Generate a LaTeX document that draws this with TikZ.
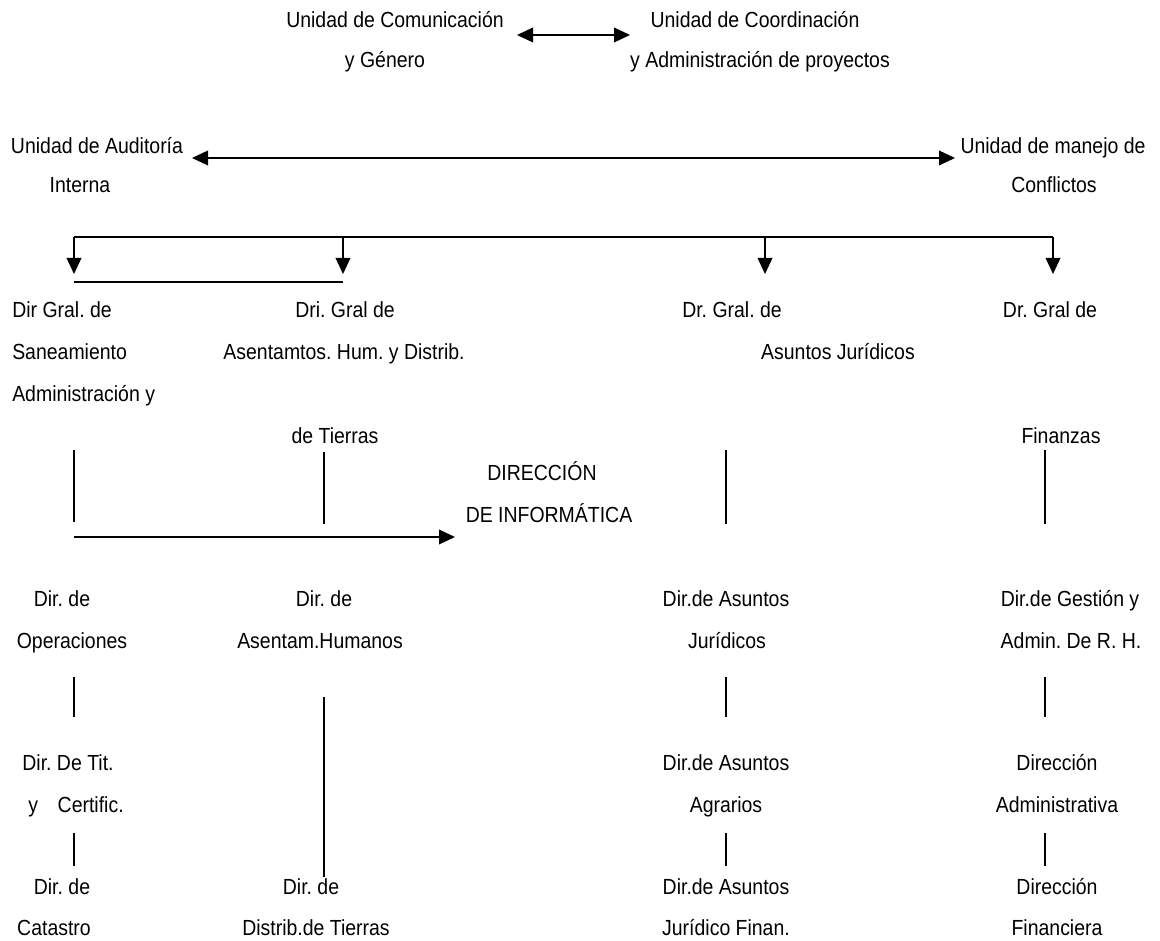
\documentclass[tikz,border=0pt]{standalone}
\usepackage{fontspec}
\setmainfont{Liberation Sans}[FakeStretch=0.89]
\usetikzlibrary{arrows.meta}
\begin{document}
\frenchspacing
\begin{tikzpicture}[x=0.75pt,y=-0.75pt,
  t/.style={font=\fontsize{16.4}{19}\selectfont, inner sep=0pt, anchor=base},
  tl/.style={t, anchor=base west},
  ln/.style={line width=1pt},
  ar/.style={line width=1pt,-{Triangle[length=12pt,width=11pt]}},
  dar/.style={line width=1pt,{Triangle[length=12pt,width=11pt]}-{Triangle[length=12pt,width=11pt]}}]
\useasboundingbox (0,0) rectangle (1160,941);
\fill[white] (0,0) rectangle (1160,941);
% top units
\node[t] (com1) at (395,28) {Unidad de Comunicación};
\node[t] (com2) at (385,68) {y Género};
\node[t] (coo1) at (755,28) {Unidad de Coordinación};
\node[t] (coo2) at (760,68) {y Administración de proyectos};
\node[t] (aud1) at (97,154) {Unidad de Auditoría};
\node[t] (aud2) at (80,193) {Interna};
\node[t] (con1) at (1053,154) {Unidad de manejo de};
\node[t] (con2) at (1054,193) {Conflictos};
% general directions
\node[tl] (s1) at (12,317) {Dir Gral. de};
\node[tl] (s2) at (12,359) {Saneamiento};
\node[tl] (s3) at (12,401) {Administración y};
\node[t] (a1) at (345,317) {Dri. Gral de};
\node[t] (a2) at (344,359) {Asentamtos. Hum. y Distrib.};
\node[t] (a3) at (335,443) {de Tierras};
\node[t] (j1) at (732,317) {Dr. Gral. de};
\node[t] (j2) at (838,359) {Asuntos Jurídicos};
\node[t] (f1) at (1050,317) {Dr. Gral de};
\node[t] (f2) at (1061,443) {Finanzas};
\node[t] (inf1) at (542,480) {DIRECCIÓN};
\node[t] (inf2) at (549,522) {DE INFORMÁTICA};
% row 3
\node[t] (op1) at (62,606) {Dir. de};
\node[t] (op2) at (72,648) {Operaciones};
\node[t] (ah1) at (324,606) {Dir. de};
\node[t] (ah2) at (320,648) {Asentam.Humanos};
\node[t] (aj1) at (726,606) {Dir.de Asuntos};
\node[t] (aj2) at (727,648) {Jurídicos};
\node[t] (rh1) at (1070,606) {Dir.de Gestión y};
\node[t] (rh2) at (1071,648) {Admin. De R. H.};
% row 4
\node[t] (tc1) at (68,770) {Dir. De Tit.};
\node[t] (tc2) at (76,812) {y\hspace{0.9em}Certific.};
\node[t] (ag1) at (726,770) {Dir.de Asuntos};
\node[t] (ag2) at (726,812) {Agrarios};
\node[t] (da1) at (1057,770) {Dirección};
\node[t] (da2) at (1057,812) {Administrativa};
% row 5
\node[t] (ca1) at (62,894) {Dir. de};
\node[t] (ca2) at (54,935) {Catastro};
\node[t] (dt1) at (311,894) {Dir. de};
\node[t] (dt2) at (316,935) {Distrib.de Tierras};
\node[t] (jf1) at (726,894) {Dir.de Asuntos};
\node[t] (jf2) at (726,935) {Jurídico Finan.};
\node[t] (df1) at (1057,894) {Dirección};
\node[t] (df2) at (1057,935) {Financiera};
% connector end points
\coordinate (cA) at (517,35); \coordinate (cB) at (630,35);
\coordinate (uA) at (192,158); \coordinate (uB) at (955,158);
\coordinate (b1) at (74,237); \coordinate (b2) at (343,237);
\coordinate (b3) at (765,237); \coordinate (b4) at (1053,237);
\coordinate (t1) at (74,274); \coordinate (t2) at (343,274);
\coordinate (t3) at (765,274); \coordinate (t4) at (1053,274);
\coordinate (h1) at (74,282); \coordinate (h2) at (343,282);
\coordinate (iA) at (74,537); \coordinate (iB) at (455,537);
% connectors
\draw[dar] (cA) -- (cB);
\draw[dar] (uA) -- (uB);
\draw[ln] (b1) -- (b4);
\draw[ar] (b1) -- (t1);
\draw[ar] (b2) -- (t2);
\draw[ar] (b3) -- (t3);
\draw[ar] (b4) -- (t4);
\draw[ln] (h1) -- (h2);
\draw[ln] (74,450) -- (74,522);
\draw[ln] (324,452) -- (324,524);
\draw[ln] (726,450) -- (726,524);
\draw[ln] (1045,450) -- (1045,524);
\draw[ar] (iA) -- (iB);
\draw[ln] (74,677) -- (74,717);
\draw[ln] (324,697) -- (324,877);
\draw[ln] (726,677) -- (726,717);
\draw[ln] (1045,677) -- (1045,717);
\draw[ln] (74,833) -- (74,866);
\draw[ln] (726,833) -- (726,866);
\draw[ln] (1045,833) -- (1045,866);
\end{tikzpicture}
\end{document}
